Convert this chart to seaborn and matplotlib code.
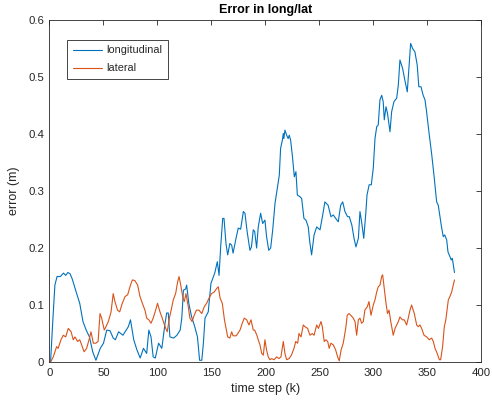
"""Error in long/lat: longitudinal vs lateral error over time steps."""

import matplotlib
matplotlib.use("Agg")
import matplotlib.pyplot as plt
import pandas as pd
import seaborn as sns

# longitudinal error (time step, error in m)
lon_t = [1, 3, 5, 7, 10, 13, 15, 17, 19, 21, 25, 28, 31, 34, 37, 40, 43, 47, 50,
         53, 56, 59, 61, 64, 68, 73, 75, 78, 81, 84, 87, 90, 92, 94, 96, 98, 101,
         104, 107, 108.5, 110, 111.5, 115, 118, 121, 122.5, 124, 126, 127, 129,
         131.5, 134.5, 137, 139, 141, 142.5, 144, 147, 149.5, 153, 155.4, 157,
         158.5, 160.4, 161.6, 163.4, 165, 167, 168.7, 170, 172.7, 174.8, 177,
         179.5, 181, 183, 185.6, 187, 188.7, 190, 191.8, 193.3, 195.5, 197.4,
         199.5, 201, 203, 204.8, 206.7, 208.8, 211, 212.8, 214, 215.6, 216.5, 217,
         218, 219.6, 221, 222, 223.3, 225, 226.7, 228.2, 229.5, 232, 233.5, 235.6,
         237.5, 239.6, 241, 242.7, 245, 247.4, 250.5, 253, 255, 258, 260.6, 262.8,
         265, 267.4, 269.6, 271.5, 273.6, 276, 277.6, 280, 282, 283.8, 286, 287.5,
         289, 291, 293, 294, 296, 298, 299.8, 301.4, 303, 304.4, 306, 307.6, 309,
         310, 311.6, 313, 315.3, 316.8, 319, 321.5, 323, 324.5, 327, 329, 331.3,
         333, 334.4, 336.3, 338.4, 340.5, 342, 344, 346, 347.7, 349, 351.7, 354,
         356, 358.5, 360, 361.6, 363, 364.6, 366, 367.8, 369, 370.8, 372, 373, 375]
lon_err = [0.0, 0.07, 0.135, 0.150, 0.150, 0.156, 0.152, 0.157, 0.155, 0.146,
           0.121, 0.103, 0.071, 0.056, 0.044, 0.018, 0.003, 0.024, 0.033, 0.056,
           0.055, 0.042, 0.039, 0.053, 0.047, 0.062, 0.074, 0.039, 0.021, 0.007,
           0.024, 0.015, 0.056, 0.044, 0.009, 0.007, 0.033, 0.024, 0.068, 0.086,
           0.086, 0.044, 0.042, 0.047, 0.056, 0.077, 0.126, 0.128, 0.135, 0.103,
           0.080, 0.062, 0.044, 0.003, 0.003, 0.033, 0.077, 0.088, 0.138, 0.156,
           0.176, 0.152, 0.202, 0.252, 0.252, 0.208, 0.188, 0.208, 0.205, 0.191,
           0.217, 0.235, 0.233, 0.264, 0.261, 0.229, 0.196, 0.202, 0.232, 0.229,
           0.200, 0.237, 0.261, 0.243, 0.249, 0.220, 0.196, 0.200, 0.232, 0.278,
           0.305, 0.328, 0.375, 0.389, 0.401, 0.392, 0.407, 0.398, 0.392, 0.398,
           0.389, 0.360, 0.325, 0.334, 0.293, 0.290, 0.287, 0.252, 0.249, 0.237,
           0.211, 0.188, 0.223, 0.237, 0.232, 0.258, 0.281, 0.275, 0.255, 0.258,
           0.252, 0.246, 0.275, 0.281, 0.264, 0.255, 0.255, 0.240, 0.217, 0.202,
           0.217, 0.264, 0.246, 0.217, 0.264, 0.293, 0.311, 0.311, 0.340, 0.392,
           0.413, 0.416, 0.460, 0.468, 0.457, 0.425, 0.448, 0.436, 0.404, 0.439,
           0.457, 0.463, 0.486, 0.530, 0.515, 0.495, 0.474, 0.521, 0.559, 0.550,
           0.544, 0.521, 0.483, 0.483, 0.468, 0.460, 0.442, 0.398, 0.363, 0.328,
           0.281, 0.275, 0.255, 0.237, 0.220, 0.223, 0.214, 0.193, 0.185, 0.179,
           0.182, 0.157]

# lateral error
lat_t = [1, 3.5, 6.6, 8, 10.6, 12.8, 15, 17.4, 20, 22, 23.6, 26, 28, 29.8, 32,
         34.4, 36.6, 38.4, 40.6, 42.8, 45, 46.8, 48.3, 50.7, 52.3, 54.5, 57, 59,
         60.6, 63, 65, 67.4, 70, 72.4, 74.5, 76.7, 79, 81.6, 83.8, 86, 88.4, 90,
         92, 94, 96, 98.3, 100, 102.3, 104.4, 107, 109, 111, 113, 114.6, 116.8,
         118.7, 120, 121.8, 123.3, 124.8, 126.4, 128.5, 130, 132, 134, 136, 138.4,
         141, 143.3, 145.5, 147.7, 150, 152.6, 154.8, 156.3, 158, 160, 162, 165,
         167, 168.7, 170, 173, 176.4, 178.5, 180.4, 182.6, 184.7, 186.6, 188.7,
         190, 192, 193.3, 194.9, 196.5, 198, 199.5, 201, 202.6, 204, 205.7, 208,
         210.4, 212.5, 214.3, 216.5, 218, 219.6, 221.8, 224, 226.4, 228, 229.8,
         231, 232.9, 235, 236.6, 239, 241.2, 243.3, 245, 247.4, 249, 251.4, 252.6,
         254.4, 256, 257.6, 259, 260.6, 262.8, 265, 266.8, 268.3, 270, 272, 274.3,
         275.7, 277.3, 279, 281.3, 282.9, 284.4, 286, 287.5, 289, 290.6, 292,
         294.3, 295.8, 297.7, 299.8, 301.4, 303, 304.4, 306, 307.6, 308.5, 310,
         311.6, 313, 314.4, 316, 318.3, 320, 321.5, 323, 324.5, 326.7, 328.5,
         330.7, 332.2, 333.8, 335.3, 337.8, 340, 341.5, 343, 344.6, 346.8, 349.3,
         351.7, 353.9, 355.4, 357, 359, 361, 362.2, 364, 365.6, 367, 369.3, 370.8,
         372.4, 375]
lat_err = [0.0, 0.009, 0.027, 0.024, 0.039, 0.047, 0.044, 0.059, 0.053, 0.039,
           0.044, 0.036, 0.039, 0.030, 0.018, 0.024, 0.039, 0.053, 0.033, 0.033,
           0.036, 0.085, 0.077, 0.056, 0.062, 0.071, 0.088, 0.120, 0.106, 0.091,
           0.088, 0.103, 0.115, 0.118, 0.132, 0.144, 0.143, 0.135, 0.115, 0.103,
           0.091, 0.077, 0.074, 0.068, 0.077, 0.091, 0.103, 0.088, 0.077, 0.062,
           0.053, 0.077, 0.094, 0.109, 0.120, 0.141, 0.150, 0.132, 0.115, 0.106,
           0.120, 0.097, 0.077, 0.071, 0.082, 0.091, 0.091, 0.085, 0.097, 0.103,
           0.112, 0.120, 0.123, 0.129, 0.132, 0.112, 0.103, 0.074, 0.044, 0.042,
           0.053, 0.046, 0.046, 0.056, 0.068, 0.077, 0.074, 0.065, 0.074, 0.056,
           0.056, 0.047, 0.039, 0.030, 0.015, 0.012, 0.039, 0.021, 0.009, 0.004,
           0.006, 0.004, 0.009, 0.006, 0.009, 0.036, 0.015, 0.004, 0.006, 0.012,
           0.024, 0.036, 0.033, 0.050, 0.044, 0.065, 0.062, 0.059, 0.047, 0.050,
           0.047, 0.065, 0.059, 0.071, 0.062, 0.036, 0.039, 0.036, 0.024, 0.033,
           0.030, 0.021, 0.009, 0.002, 0.021, 0.033, 0.059, 0.082, 0.085, 0.082,
           0.077, 0.071, 0.047, 0.074, 0.077, 0.068, 0.071, 0.091, 0.097, 0.106,
           0.082, 0.100, 0.109, 0.123, 0.132, 0.135, 0.150, 0.153, 0.129, 0.103,
           0.085, 0.091, 0.071, 0.047, 0.059, 0.065, 0.071, 0.079, 0.074, 0.074,
           0.065, 0.077, 0.091, 0.100, 0.085, 0.065, 0.062, 0.065, 0.059, 0.047,
           0.044, 0.039, 0.042, 0.036, 0.024, 0.015, 0.004, 0.004, 0.027, 0.062,
           0.074, 0.109, 0.115, 0.123, 0.144]

SERIES = ["longitudinal", "lateral"]
COLORS = {"longitudinal": "#0072BD", "lateral": "#D95319"}
INK = "#262626"


def main():
    sns.set_style("white")
    plt.rcParams["font.family"] = ["Liberation Sans", "DejaVu Sans"]

    df = pd.concat([
        pd.DataFrame({"t": lon_t, "err": lon_err, "series": "longitudinal"}),
        pd.DataFrame({"t": lat_t, "err": lat_err, "series": "lateral"}),
    ], ignore_index=True)

    fig = plt.figure(figsize=(4.92, 4.09), dpi=100)
    ax = fig.add_axes([0.1006, 0.1149, 0.878, 0.836])

    for name in SERIES:
        d = df[df["series"] == name]
        sns.lineplot(data=d, x="t", y="err", color=COLORS[name], lw=0.8,
                     estimator=None, sort=False, label=name, ax=ax)

    ax.set_xlim(0, 400)
    ax.set_ylim(0, 0.6)
    ax.set_xticks(range(0, 401, 50))
    ax.set_yticks([0, 0.1, 0.2, 0.3, 0.4, 0.5, 0.6])
    ax.set_yticklabels(["0", "0.1", "0.2", "0.3", "0.4", "0.5", "0.6"])
    ax.tick_params(direction="in", top=True, right=True, length=3.5,
                   width=0.6, color=INK, labelcolor=INK, labelsize=8.2, pad=4)
    for sp in ax.spines.values():
        sp.set_visible(True)
        sp.set_color(INK)
        sp.set_linewidth(0.6)

    ax.set_xlabel("time step (k)", fontsize=9, color=INK, labelpad=4)
    ax.set_ylabel("error (m)", fontsize=9, color=INK, labelpad=6)
    ax.set_title("Error in long/lat", fontsize=9, fontweight="bold",
                 color="black", pad=5)

    leg = ax.legend(loc="upper left", bbox_to_anchor=(0.041, 0.942),
                    borderaxespad=0, fontsize=7.8, handlelength=2.7,
                    handletextpad=0.45, borderpad=0.5, labelspacing=0.75,
                    fancybox=False, framealpha=1)
    leg.get_frame().set_edgecolor(INK)
    leg.get_frame().set_linewidth(0.6)

    fig.savefig("out.png", dpi=100)
    plt.close(fig)


if __name__ == "__main__":
    main()
